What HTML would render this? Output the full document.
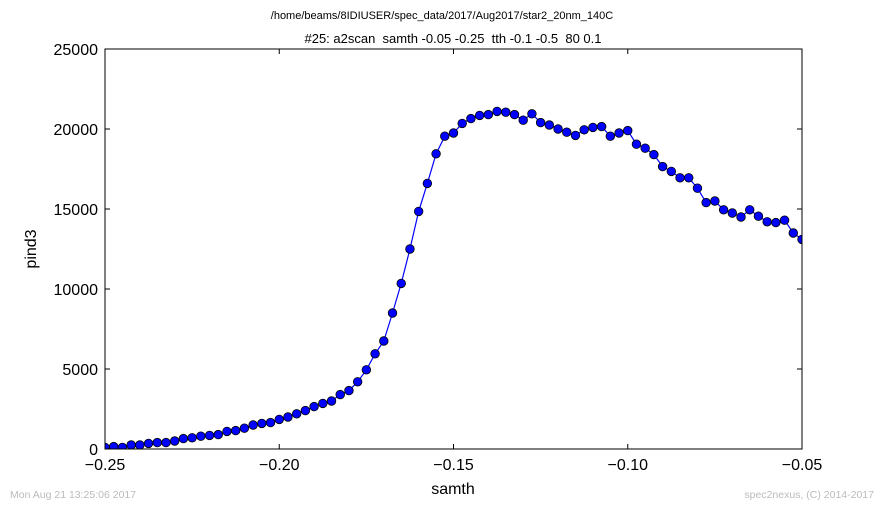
<!DOCTYPE html>
<html><head><meta charset="utf-8"><style>
body{margin:0;background:#fff;width:884px;height:509px;overflow:hidden;font-family:"Liberation Sans",sans-serif}
</style></head><body>
<svg id="chart" width="884" height="509" xmlns="http://www.w3.org/2000/svg">
<text x="442" y="19" font-size="11" text-anchor="middle">/home/beams/8IDIUSER/spec_data/2017/Aug2017/star2_20nm_140C</text>
<text x="453" y="43" font-size="13" text-anchor="middle" style="white-space:pre">#25: a2scan  samth -0.05 -0.25  tth -0.1 -0.5  80 0.1</text>
<g id="axes"></g>
<g id="plot"></g>
<rect x="105" y="49" width="697" height="400" fill="none" stroke="#000" stroke-width="1"/>
<text x="453" y="494" font-size="16" text-anchor="middle">samth</text>
<text x="36" y="249" font-size="16" text-anchor="middle" transform="rotate(-90 36 249)">pind3</text>
<text x="10" y="498" font-size="10.5" fill="#bbb">Mon Aug 21 13:25:06 2017</text>
<text x="874" y="498" font-size="10.5" fill="#bbb" text-anchor="end">spec2nexus, (C) 2014-2017</text>
</svg>
<script>
const xTicks=[-0.25,-0.20,-0.15,-0.10,-0.05];
const xTickLabels=["\u22120.25","\u22120.20","\u22120.15","\u22120.10","\u22120.05"];
const yTicks=[0,5000,10000,15000,20000,25000];
const yTickLabels=["0","5000","10000","15000","20000","25000"];
const xStart=-0.25, xStep=0.0025;
const pind3=[100,150,100,250,250,350,400,400,500,650,700,800,850,900,1100,1150,1300,1500,1600,1650,1850,2000,2200,2400,2650,2850,3000,3400,3650,4200,4950,5950,6750,8500,10350,12500,14850,16600,18450,19550,19750,20350,20650,20850,20900,21100,21050,20900,20550,20950,20400,20250,20000,19800,19600,19950,20100,20150,19550,19750,19900,19050,18800,18400,17650,17350,16950,16950,16300,15400,15500,14950,14750,14500,14950,14550,14200,14150,14300,13500,13100];
const X0=105,X1=802,Y0=449,Y1=49;
const sx=v=>X0+(v-(-0.25))/(0.2)*(X1-X0);
const sy=v=>Y0-(v/25000)*(Y0-Y1);
const NS="http://www.w3.org/2000/svg";
const axes=document.getElementById('axes'), plot=document.getElementById('plot');
function mk(tag,attrs,parent){const e=document.createElementNS(NS,tag);for(const k in attrs)e.setAttribute(k,attrs[k]);parent.appendChild(e);return e;}
xTicks.forEach((t,i)=>{const x=sx(t);
 const a=mk('line',{x1:x,x2:x,y1:Y0,y2:Y0-5,stroke:'#000'},axes);
 
 
 const b=mk('line',{x1:x,x2:x,y1:Y1,y2:Y1+5,stroke:'#000'},axes);
 
 
 const tx=mk('text',{x:x,y:470,'font-size':16,'text-anchor':'middle'},axes);tx.textContent=xTickLabels[i];
 
 
});
yTicks.forEach((t,i)=>{const y=sy(t);
 const a=mk('line',{x1:X0,x2:X0+5,y1:y,y2:y,stroke:'#000'},axes);
 
 
 const b=mk('line',{x1:X1,x2:X1-5,y1:y,y2:y,stroke:'#000'},axes);
 
 
 const tx=mk('text',{x:98,y:y+6,'font-size':16,'text-anchor':'end'},axes);tx.textContent=yTickLabels[i];
 
 
});
const cp=mk('clipPath',{id:'clip'},plot);mk('rect',{x:X0,y:Y1,width:X1-X0,height:Y0-Y1},cp);
const g=mk('g',{'clip-path':'url(#clip)'},plot);
const pts=pind3.map((v,i)=>sx(xStart+i*xStep).toFixed(2)+','+sy(v).toFixed(2)).join(' ');
const line=mk('polyline',{points:pts,fill:'none',stroke:'#0000ff','stroke-width':1.2},g);


pind3.forEach((v,i)=>{
 const c=mk('circle',{cx:sx(xStart+i*xStep),cy:sy(v),r:4.3,fill:'#0000ff',stroke:'#000','stroke-width':0.8},g);
 
 
});
</script>
</body></html>
